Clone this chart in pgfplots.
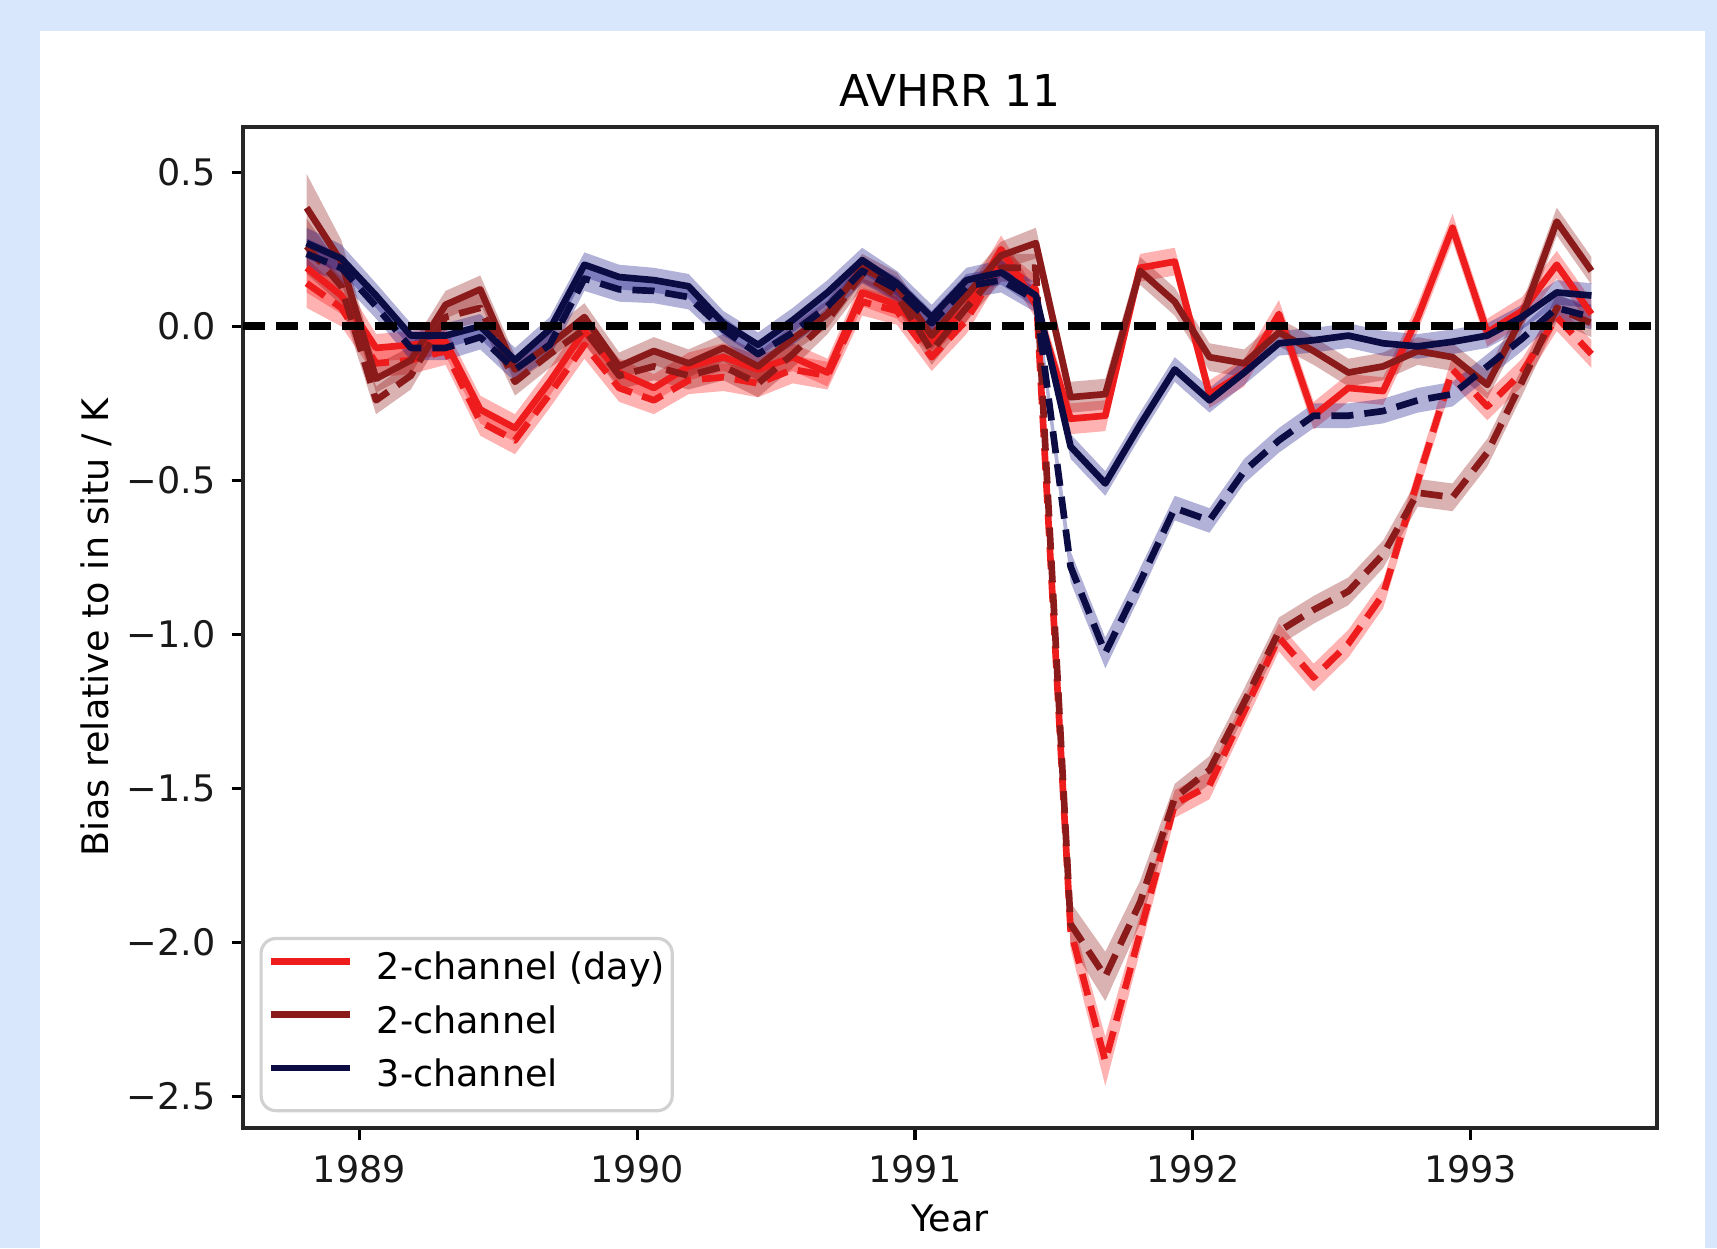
\documentclass[border=0pt]{standalone}
\usepackage{fontspec}
\setmainfont{DejaVu Sans}
\usepackage{pgfplots}
\pgfplotsset{compat=1.18}
\usepackage{pgfplotstable}
\usepgfplotslibrary{fillbetween}

\definecolor{bgblue}{HTML}{D8E7FB}
\definecolor{cred}{HTML}{EE1C1C}
\definecolor{cdred}{HTML}{8B1A1A}
\definecolor{cnavy}{HTML}{0C0C45}
\definecolor{bred}{HTML}{FF0000}
\definecolor{bdred}{HTML}{8B0000}
\definecolor{bnavy}{HTML}{000080}

% columns: rs/rd = 2-channel (day) solid/dashed, ks/kd = 2-channel, ns/nd = 3-channel; *e = half width of band
\pgfplotstableread{
x        rs     rse   rd     rde   ks     kse   kd     kde   ns     nse   nd     nde
1988.810 0.19   0.08  0.14   0.08  0.385  0.11  0.26   0.09  0.27   0.05  0.235  0.05
1988.935 0.10   0.06  0.06   0.06  0.21   0.07  0.13   0.06  0.22   0.045 0.19   0.045
1989.060 -0.07  0.045 -0.12  0.045 -0.17  0.045 -0.24  0.045 0.10   0.04  0.065  0.04
1989.185 -0.06  0.045 -0.11  0.045 -0.11  0.045 -0.16  0.045 -0.03  0.04  -0.07  0.04
1989.310 -0.05  0.045 -0.08  0.045 0.07   0.045 0.03   0.045 -0.03  0.04  -0.07  0.04
1989.435 -0.27  0.045 -0.31  0.045 0.12   0.045 0.06   0.045 0.00   0.04  -0.035 0.04
1989.560 -0.33  0.045 -0.37  0.045 -0.14  0.045 -0.18  0.045 -0.11  0.04  -0.14  0.04
1989.685 -0.18  0.045 -0.22  0.045 -0.06  0.045 -0.09  0.045 -0.01  0.04  -0.06  0.04
1989.810 -0.015 0.045 -0.06  0.045 0.03   0.045 -0.01  0.045 0.20   0.04  0.155  0.04
1989.935 -0.15  0.045 -0.20  0.045 -0.13  0.045 -0.16  0.045 0.16   0.04  0.12   0.04
1990.060 -0.20  0.045 -0.24  0.045 -0.08  0.045 -0.13  0.045 0.15   0.04  0.115  0.04
1990.185 -0.13  0.045 -0.175 0.045 -0.12  0.045 -0.16  0.045 0.13   0.04  0.095  0.04
1990.310 -0.10  0.045 -0.165 0.045 -0.07  0.045 -0.13  0.045 0.01   0.04  -0.01  0.04
1990.435 -0.14  0.045 -0.185 0.045 -0.13  0.045 -0.185 0.045 -0.06  0.04  -0.09  0.04
1990.560 -0.10  0.045 -0.14  0.045 -0.04  0.045 -0.09  0.045 0.02   0.04  -0.02  0.04
1990.685 -0.15  0.045 -0.16  0.045 0.04   0.045 0.02   0.045 0.11   0.04  0.065  0.04
1990.810 0.11   0.045 0.08   0.045 0.19   0.045 0.17   0.045 0.215  0.04  0.18   0.04
1990.935 0.07   0.045 0.05   0.045 0.13   0.045 0.10   0.045 0.14   0.04  0.12   0.04
1991.060 -0.05  0.045 -0.10  0.045 -0.03  0.045 -0.08  0.045 0.03   0.04  0.01   0.04
1991.185 0.06   0.045 0.02   0.045 0.10   0.045 0.06   0.045 0.15   0.04  0.13   0.04
1991.310 0.25   0.045 0.21   0.045 0.23   0.045 0.19   0.045 0.175  0.04  0.15   0.04
1991.435 0.07   0.045 0.12   0.045 0.27   0.05  0.19   0.045 0.10   0.04  0.085  0.04
1991.560 -0.30  0.05  -1.96  0.06  -0.23  0.05  -1.94  0.07  -0.39  0.04  -0.78  0.05
1991.685 -0.29  0.05  -2.385 0.08  -0.22  0.05  -2.11  0.08  -0.51  0.04  -1.06  0.05
1991.810 0.19   0.045 -1.97  0.06  0.18   0.045 -1.87  0.07  -0.32  0.04  -0.83  0.045
1991.935 0.21   0.045 -1.55  0.045 0.08   0.045 -1.53  0.045 -0.14  0.04  -0.59  0.04
1992.060 -0.22  0.045 -1.49  0.045 -0.10  0.045 -1.44  0.045 -0.24  0.04  -0.63  0.04
1992.185 -0.15  0.045 -1.25  0.045 -0.12  0.045 -1.22  0.045 -0.15  0.04  -0.47  0.04
1992.310 0.04   0.045 -1.01  0.045 -0.02  0.045 -0.99  0.045 -0.055 0.04  -0.37  0.04
1992.435 -0.29  0.045 -1.14  0.045 -0.08  0.045 -0.92  0.045 -0.045 0.04  -0.29  0.04
1992.560 -0.20  0.045 -1.03  0.045 -0.15  0.045 -0.86  0.045 -0.03  0.04  -0.29  0.04
1992.685 -0.21  0.045 -0.87  0.045 -0.13  0.045 -0.74  0.045 -0.055 0.04  -0.275 0.04
1992.810 0.03   0.045 -0.50  0.045 -0.08  0.045 -0.54  0.045 -0.065 0.04  -0.24  0.04
1992.935 0.32   0.045 -0.14  0.045 -0.10  0.045 -0.555 0.045 -0.05  0.04  -0.22  0.04
1993.060 -0.02  0.045 -0.26  0.045 -0.19  0.045 -0.41  0.045 -0.03  0.04  -0.13  0.04
1993.185 0.05   0.045 -0.15  0.045 0.03   0.045 -0.18  0.045 0.03   0.04  -0.04  0.04
1993.310 0.20   0.045 0.03   0.045 0.34   0.045 0.06   0.045 0.11   0.04  0.06   0.04
1993.435 0.04   0.045 -0.09  0.045 0.18   0.045 0.01   0.045 0.10   0.04  0.03   0.04
}\datatable

\newcommand{\band}[3]{%
  \addplot[draw=none, forget plot, name path=U#1] table[x=x, y expr=\thisrow{#1}+\thisrow{#2}] {\datatable};
  \addplot[draw=none, forget plot, name path=L#1] table[x=x, y expr=\thisrow{#1}-\thisrow{#2}] {\datatable};
  \addplot[fill=#3, fill opacity=0.3, draw=none, forget plot] fill between[of=U#1 and L#1];
}

\begin{document}
\begin{tikzpicture}
\path (0,0) rectangle (17.17cm,12.48cm);
\begin{axis}[
  set layers,
  clip=false,
  at={(2.43cm,1.20cm)}, anchor=south west,
  scale only axis, width=14.14cm, height=10.01cm,
  xmin=1988.581, xmax=1993.671, ymin=-2.602, ymax=0.647,
  xtick={1989,1990,1991,1992,1993},
  xticklabels={1989,1990,1991,1992,1993},
  ytick={-2.5,-2,-1.5,-1,-0.5,0,0.5},
  yticklabels={−2.5,−2.0,−1.5,−1.0,−0.5,0.0,0.5},
  tick align=outside, tick pos=left,
  major tick length=1.15mm,
  every tick/.style={black, line width=0.9pt},
  axis line style={black!85, line width=1.1pt},
  tick label style={font=\fontsize{10.4}{12}\selectfont, text=black!90},
  xticklabel style={yshift=-0.35mm},
  yticklabel style={xshift=-0.35mm},
  title={AVHRR 11},
  title style={font=\fontsize{12.5}{15}\selectfont, at={(axis description cs:0.5,1.0205)}, anchor=base, yshift=-6pt},
  xlabel={Year},
  xlabel style={font=\fontsize{10.4}{12}\selectfont, at={(axis description cs:0.5,-0.1030)}, anchor=base},
  ylabel={Bias relative to in situ / K},
  ylabel style={font=\fontsize{10.4}{12}\selectfont, at={(axis description cs:-0.0948,0.5)}, anchor=base},
  legend style={at={(axis description cs:0.01167,0.0157)}, anchor=south west,
    draw=black!18, line width=0.9pt, rounded corners=1.5mm, fill=white,
    font=\fontsize{10.4}{12}\selectfont, inner xsep=0.7mm, inner ysep=0.6mm,
    nodes={inner xsep=0pt, inner ysep=2.6pt, text height=0.75em, text depth=0.25em}},
  legend cell align=left,
  legend image code/.code={\draw[#1] (0cm,0.1cm) -- (0.785cm,0.1cm); \path (1.02cm,0.1cm);},
  line join=round,
]
\begin{pgfonlayer}{axis background}
\fill[bgblue] (axis description cs:-0.17185,-0.11988) rectangle (axis description cs:1.04243,1.12687);
\fill[white] (axis description cs:-0.14356,-0.11988) rectangle (axis description cs:1.03395,1.09590);
\end{pgfonlayer}

\band{rs}{rse}{bred}
\band{rd}{rde}{bred}
\band{ks}{kse}{bdred}
\band{kd}{kde}{bdred}
\band{ns}{nse}{bnavy}
\band{nd}{nde}{bnavy}

\addplot[cred, line width=1.9pt, forget plot] table[x=x, y=rs] {\datatable};
\addplot[cred, line width=1.9pt, dash pattern=on 2.2mm off 1.1mm, forget plot] table[x=x, y=rd] {\datatable};
\addplot[cdred, line width=1.9pt, forget plot] table[x=x, y=ks] {\datatable};
\addplot[cdred, line width=1.9pt, dash pattern=on 2.2mm off 1.1mm, forget plot] table[x=x, y=kd] {\datatable};
\addplot[cnavy, line width=1.9pt, forget plot] table[x=x, y=ns] {\datatable};
\addplot[cnavy, line width=1.9pt, dash pattern=on 2.2mm off 1.1mm, forget plot] table[x=x, y=nd] {\datatable};

\addplot[black, line width=2.2pt, dash pattern=on 2.2mm off 1.1mm, forget plot] coordinates {(1988.581,0) (1993.671,0)};

\addlegendimage{cred, line width=1.9pt}
\addlegendentry{2-channel (day)}
\addlegendimage{cdred, line width=1.9pt}
\addlegendentry{2-channel}
\addlegendimage{cnavy, line width=1.9pt}
\addlegendentry{3-channel}
\end{axis}
\end{tikzpicture}
\end{document}
